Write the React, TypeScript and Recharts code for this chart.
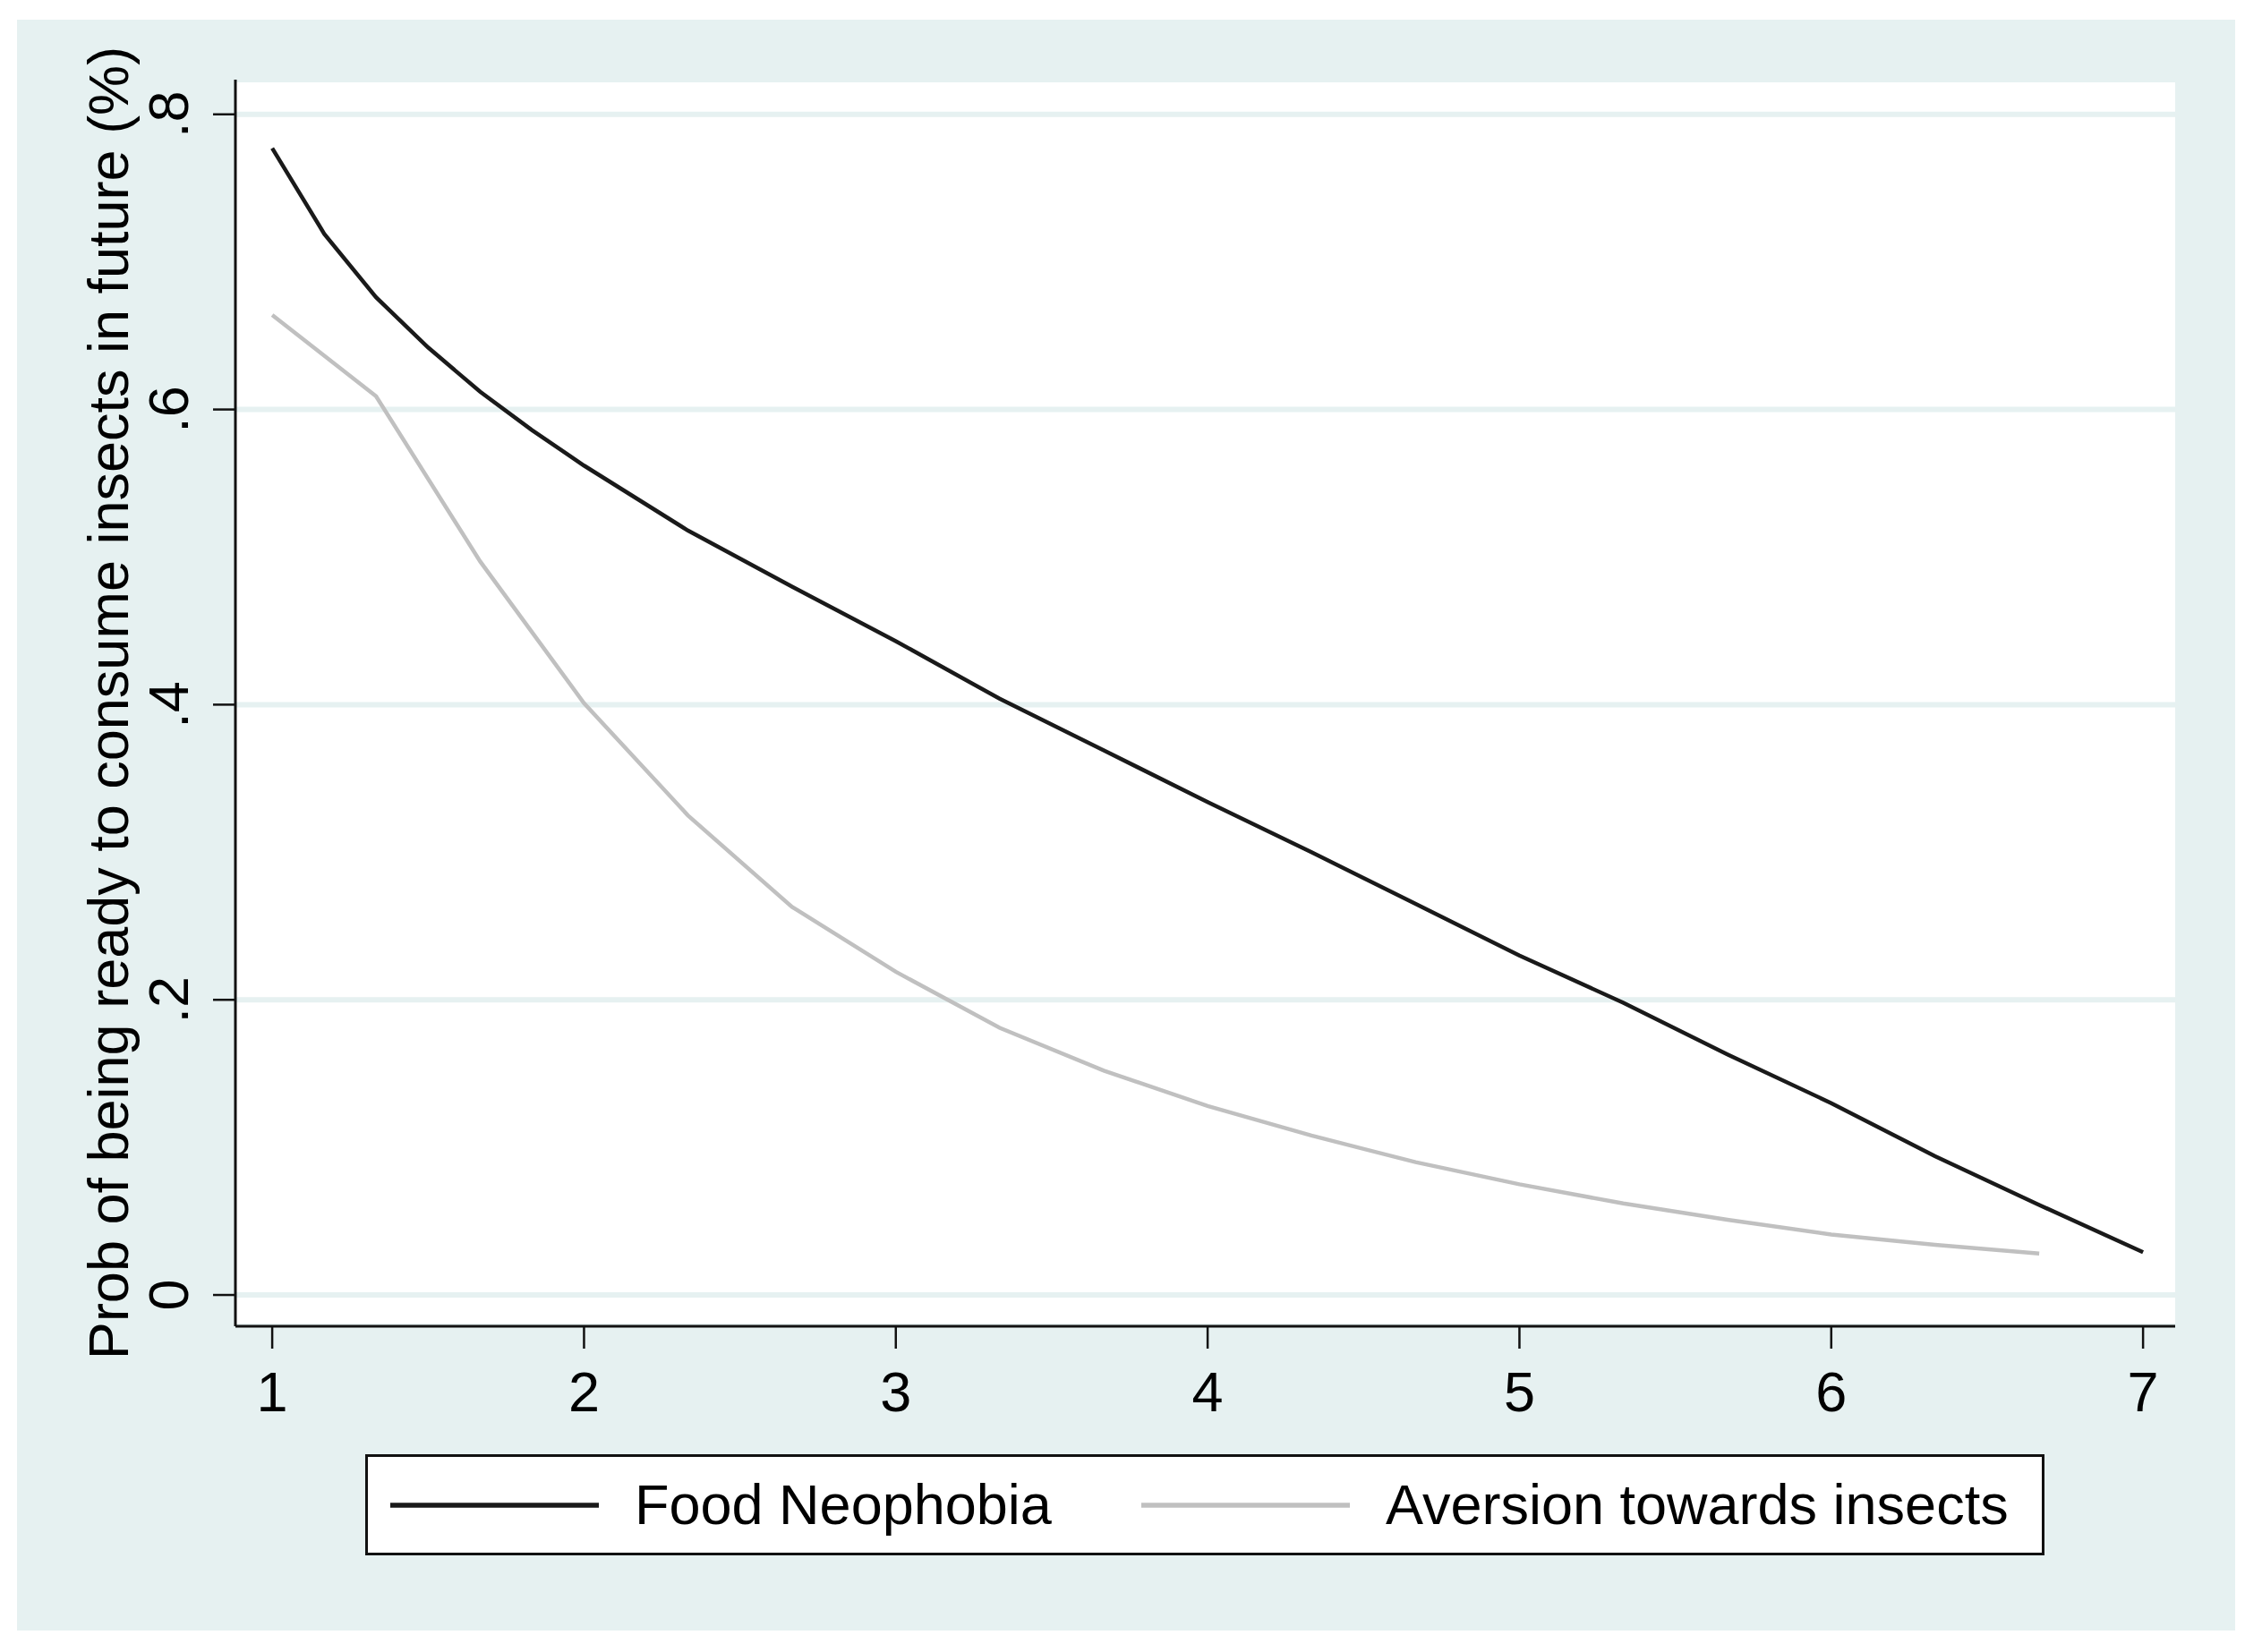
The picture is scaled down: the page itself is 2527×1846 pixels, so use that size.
import React from "react"
import { LineChart, Line, XAxis, YAxis, CartesianGrid, Legend, Label } from "recharts"

const FONT = "'Liberation Sans', Arial, sans-serif"

// x ticks and y ticks of the margins plot
const xTicks = [1, 2, 3, 4, 5, 6, 7]
const yTicks = [0, 0.2, 0.4, 0.6, 0.8]
const yTickLabels = ["0", ".2", ".4", ".6", ".8"]

const seriesNames = ["Food Neophobia", "Aversion towards insects"]

// Food Neophobia
const neophobiaX = [1, 1.167, 1.333, 1.5, 1.667, 1.833, 2, 2.333, 2.667, 3, 3.333, 3.667, 4, 4.333, 4.667, 5, 5.333, 5.667, 6, 6.333, 6.667, 7]
const neophobiaY = [0.777, 0.719, 0.676, 0.642, 0.612, 0.586, 0.562, 0.518, 0.48, 0.443, 0.404, 0.369, 0.334, 0.3, 0.265, 0.23, 0.198, 0.163, 0.13, 0.094, 0.061, 0.029]

// Aversion towards insects
const aversionX = [1, 1.333, 1.667, 2, 2.333, 2.667, 3, 3.333, 3.667, 4, 4.333, 4.667, 5, 5.333, 5.667, 6, 6.333, 6.667]
const aversionY = [0.664, 0.609, 0.497, 0.401, 0.325, 0.263, 0.219, 0.181, 0.152, 0.128, 0.108, 0.09, 0.075, 0.062, 0.051, 0.041, 0.034, 0.028]

const neophobiaData = neophobiaX.map((x, i) => ({ x, y: neophobiaY[i] }))
const aversionData = aversionX.map((x, i) => ({ x, y: aversionY[i] }))

const bgColor = "#e6f1f1"

function XTick({ x, y, payload }: any) {
  return (
    <text x={x} y={y} dy="0.71em" textAnchor="middle" fontSize={63} fontFamily={FONT} fill="#000">
      {payload.value}
    </text>
  )
}

function YTick({ x, y, payload }: any) {
  const i = yTicks.indexOf(payload.value)
  return (
    <text x={x} y={y} transform={`rotate(-90 ${x} ${y})`} textAnchor="middle" fontSize={63} fontFamily={FONT} fill="#000">
      {i >= 0 ? yTickLabels[i] : payload.value}
    </text>
  )
}

function YTitle(props: any) {
  const vb = props.viewBox || { x: 63, y: 89, width: 200, height: 1393 }
  const cx = vb.x + 80
  const cy = vb.y + vb.height / 2
  return (
    <text x={cx} y={cy} transform={`rotate(-90 ${cx} ${cy})`} textAnchor="middle" fontSize={63} fontFamily={FONT} fill="#000">
      Prob of being ready to consume insects in future (%)
    </text>
  )
}

function LegendBox({ payload }: any) {
  const items = [...(payload || [])].sort(
    (a: any, b: any) => seriesNames.indexOf(a.value) - seriesNames.indexOf(b.value)
  )
  const lefts = [25, 864]
  return (
    <div
      style={{
        width: 1876,
        height: 113,
        boxSizing: "border-box",
        border: "3px solid #111",
        background: "#fff",
        position: "relative",
        fontFamily: FONT,
        fontSize: 63,
        color: "#000",
      }}
    >
      {items.map((it: any, i: number) => (
        <div
          key={it.value}
          style={{ position: "absolute", left: lefts[i], top: 0, height: 107, display: "flex", alignItems: "center", whiteSpace: "nowrap" }}
        >
          <svg width={233} height={10} style={{ display: "block" }}>
            <line x1={0} y1={5} x2={233} y2={5} stroke={it.color} strokeWidth={5.5} />
          </svg>
          <span style={{ marginLeft: 40, lineHeight: 1 }}>{it.value}</span>
        </div>
      ))}
    </div>
  )
}

export default function App() {
  return (
    <div style={{ position: "absolute", left: 0, top: 0, width: 2527, height: 1846, background: "#fff" }}>
      <div style={{ position: "absolute", left: 19, top: 22, width: 2478, height: 1800, background: bgColor }} />
      <div style={{ position: "absolute", left: 0, top: 0 }}>
        <LineChart width={2527} height={1846} margin={{ top: 89, right: 97, left: 63, bottom: 164 }}>
          <CartesianGrid horizontal vertical={false} fill="#fff" stroke={bgColor} strokeWidth={6} />
          <XAxis
            dataKey="x"
            type="number"
            domain={[0.882, 7.103]}
            allowDataOverflow
            ticks={xTicks}
            height={200}
            tickSize={25}
            tickMargin={25}
            tick={<XTick />}
            axisLine={{ stroke: "#111", strokeWidth: 3 }}
            tickLine={{ stroke: "#111", strokeWidth: 2.5 }}
          />
          <YAxis
            dataKey="y"
            type="number"
            domain={[-0.0212, 0.8235]}
            allowDataOverflow
            ticks={yTicks}
            width={200}
            tickSize={25}
            tickMargin={28}
            tick={<YTick />}
            axisLine={{ stroke: "#111", strokeWidth: 3 }}
            tickLine={{ stroke: "#111", strokeWidth: 2.5 }}
          >
            <Label content={<YTitle />} />
          </YAxis>
          <Legend
            layout="horizontal"
            verticalAlign="middle"
            align="center"
            wrapperStyle={{ left: 408, top: 1625, width: 1876, height: 113 }}
            content={<LegendBox />}
          />
          <Line
            data={neophobiaData}
            dataKey="y"
            name="Food Neophobia"
            type="linear"
            stroke="#1a1a1a"
            strokeWidth={4.5}
            dot={false}
            isAnimationActive={false}
          />
          <Line
            data={aversionData}
            dataKey="y"
            name="Aversion towards insects"
            type="linear"
            stroke="#c0c0c0"
            strokeWidth={4.5}
            dot={false}
            isAnimationActive={false}
          />
        </LineChart>
      </div>
    </div>
  )
}
